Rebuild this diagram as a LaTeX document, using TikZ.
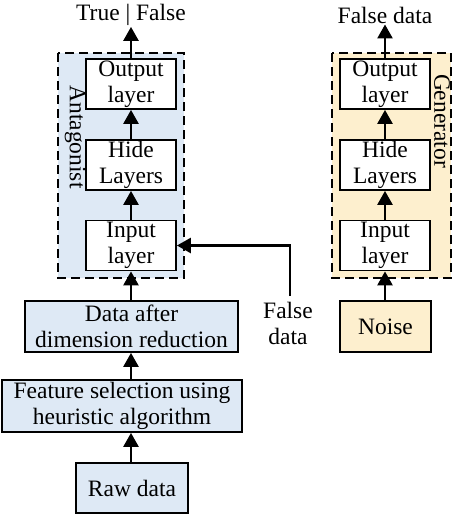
\documentclass[tikz,border=0pt]{standalone}
\usepackage{fontspec}
\setmainfont{Liberation Serif}
\usetikzlibrary{arrows.meta}
\definecolor{bluefill}{RGB}{222,233,245}
\definecolor{yelfill}{RGB}{253,239,206}
\begin{document}
\begin{tikzpicture}[x=1pt,y=-1pt,
  font=\fontsize{23.5}{26}\selectfont,
  box/.style={draw=black,line width=1.8pt,fill=white,align=center,inner sep=0pt,minimum width=90pt,minimum height=50pt},
  bbox/.style={draw=black,line width=1.8pt,fill=bluefill,align=center,inner sep=0pt,minimum height=51pt},
  ybox/.style={draw=black,line width=1.8pt,fill=yelfill,align=center,inner sep=0pt,minimum height=51pt},
  grp/.style={draw=black,dash pattern=on 9pt off 5pt,line width=1.8pt},
  arr/.style={line width=2.6pt,-{Triangle[length=14pt,width=15pt]}},
  lbl/.style={align=center,inner sep=1pt}]
\useasboundingbox (0,0) rectangle (452,515);
% group backgrounds
\draw[grp,fill=bluefill] (58,53) rectangle (184,278);
\draw[grp,fill=yelfill] (332,53) rectangle (451,278);
% antagonist
\node[box] (ao) at (131,84) {Output\\layer};
\node[box] (ah) at (131,165) {Hide\\Layers};
\node[box] (ai) at (131,245.5) {Input\\layer};
\node[rotate=-90] (alab) at (75,137) {Antagonist};
\node[lbl] (tf) at (131,15) {True | False};
% generator
\node[box] (go) at (385,84) {Output\\layer};
\node[box] (gh) at (385,165) {Hide\\Layers};
\node[box] (gi) at (385,245.5) {Input\\layer};
\node[rotate=-90] (glab) at (442,121) {Generator};
\node[lbl] (fd) at (385,15) {False data};
\node[ybox,minimum width=91pt] (noise) at (385.5,326.5) {Noise};
% lower chain
\node[bbox,minimum width=213pt] (dr) at (131.5,326.5) {Data after\\dimension reduction};
\node[bbox,minimum width=240pt,minimum height=52pt] (fs) at (122,406) {Feature selection using\\heuristic algorithm};
\node[bbox,minimum width=112pt,minimum height=50pt] (raw) at (132,488) {Raw data};
\node[lbl] (fdl) at (288,323) {False\\data};
% arrows
\draw[arr] (raw.north -| 131,0) -- (fs.south -| 131,0);
\draw[arr] (fs.north -| 131,0) -- (dr.south -| 131,0);
\draw[arr] (dr.north -| 131,0) -- (ai.south);
\draw[arr] (ai.north) -- (ah.south);
\draw[arr] (ah.north) -- (ao.south);
\draw[arr] (ao.north) -- (tf.south);
\draw[arr] (noise.north -| 385,0) -- (gi.south);
\draw[arr] (gi.north) -- (gh.south);
\draw[arr] (gh.north) -- (go.south);
\draw[arr] (go.north) -- (fd.south);
\coordinate (fdtop) at (290,296);
\draw[arr] (fdtop) |- (ai.east);
\end{tikzpicture}
\end{document}
